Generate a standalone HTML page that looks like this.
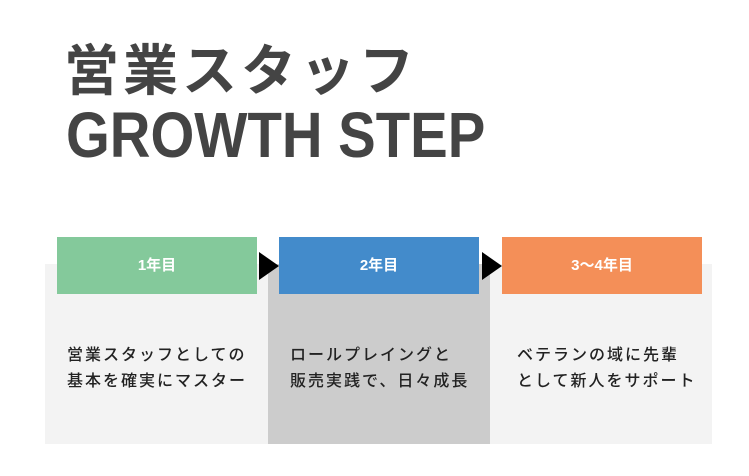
<!DOCTYPE html>
<html><head><meta charset="utf-8"><style>
body{margin:0;width:749px;height:476px;background:#fff;position:relative;overflow:hidden;font-family:"Liberation Sans","Noto Sans CJK JP",sans-serif;}
.a{position:absolute}
.t1{left:64px;top:38px;font-size:55px;letter-spacing:4px;color:#444;font-weight:bold;line-height:66px;white-space:nowrap}
.t2{left:66px;top:102px;font-size:64px;font-weight:bold;color:#444;line-height:66px;white-space:nowrap;transform:scaleX(0.88);transform-origin:0 0}
.h{color:#fff;font-size:15px;font-weight:bold;text-align:center;line-height:57px;height:57px;width:200px;top:237px}
.tx{font-size:16px;line-height:26px;color:#222;top:343px;white-space:nowrap;letter-spacing:2px;font-weight:500}
.tri{width:0;height:0;border-top:14px solid transparent;border-bottom:14px solid transparent;border-left:20px solid #000;top:252px}
</style></head><body>
<div class="a t1">営業スタッフ</div>
<div class="a t2">GROWTH STEP</div>
<div class="a" style="left:45px;top:264px;width:667px;height:180px;background:#f3f3f3"></div>
<div class="a" style="left:268px;top:264px;width:222px;height:180px;background:#cccccc"></div>
<div class="a h" style="left:57px;background:#84c99b">1年目</div>
<div class="a h" style="left:279px;background:#438bcb">2年目</div>
<div class="a h" style="left:502px;background:#f48f58">3〜4年目</div>
<div class="a tri" style="left:259px"></div>
<div class="a tri" style="left:482px"></div>
<div class="a tx" style="left:67px">営業スタッフとしての<br>基本を確実にマスター</div>
<div class="a tx" style="left:290px">ロールプレイングと<br>販売実践で、日々成長</div>
<div class="a tx" style="left:517px">ベテランの域に先輩<br>として新人をサポート</div>
</body></html>
